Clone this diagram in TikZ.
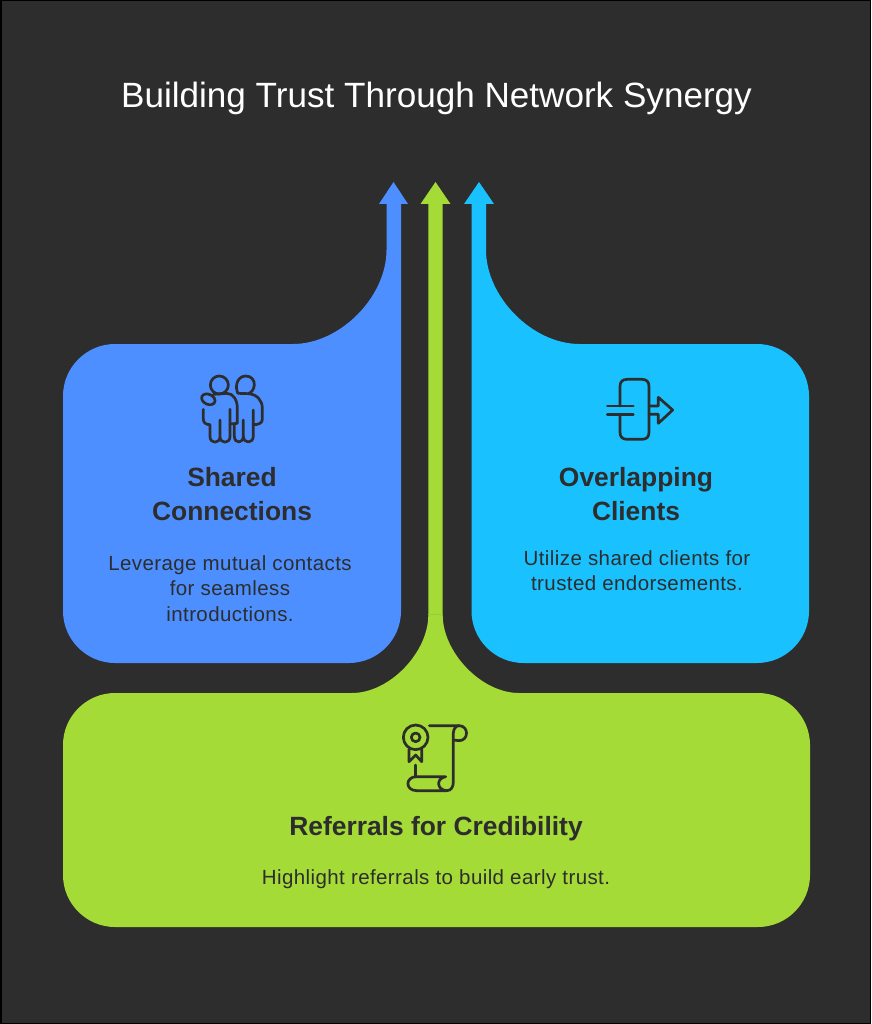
\documentclass[tikz,border=0pt]{standalone}
\usepackage{fontspec}
\setmainfont{Liberation Sans}
\definecolor{bg}{HTML}{2D2D2D}
\definecolor{edge}{HTML}{000000}
\definecolor{bluec}{HTML}{4D8FFF}
\definecolor{cyanc}{HTML}{19C1FF}
\definecolor{greenc}{HTML}{A5DB36}
\definecolor{seamc}{HTML}{98CB36}
\definecolor{ink}{HTML}{2D2D2D}
\tikzset{
  titletext/.style={text=white,font=\fontsize{35.1}{40}\selectfont,inner sep=0pt},
  headtext/.style={text=ink,font=\bfseries\fontsize{26.4}{33.5}\selectfont,align=center,inner sep=0pt},
  bodytext/.style={text=ink,font=\addfontfeatures{LetterSpace=2}\fontsize{20.5}{25.2}\selectfont,align=center,inner sep=0pt},
  iconline/.style={draw=ink,line width=2.7pt,line cap=round,line join=round,fill=none},
}
\begin{document}
\begin{tikzpicture}[x=1pt,y=-1pt]
\useasboundingbox (0,0) rectangle (871,1024);
\fill[edge] (0,0) rectangle (871,1024);
\fill[bg] (1.5,1.5) rectangle (869.5,1022.5);
% blue
\fill[bluec] (63,396) .. controls (63,367.4) and (86.4,344) .. (115,344) -- (293,344)
 .. controls (340,344) and (386.5,297) .. (386.5,250) -- (386.5,204) -- (379,204) -- (393.5,182) -- (408,204) -- (401,204)
 -- (401,611) .. controls (401,639.6) and (377.6,663) .. (349,663) -- (115,663) .. controls (86.4,663) and (63,639.6) .. (63,611) -- cycle;
% cyan
\fill[cyanc] (809,396) .. controls (809,367.4) and (785.6,344) .. (757,344) -- (579.5,344)
 .. controls (532.5,344) and (486,297) .. (486,250) -- (486,204) -- (494,204) -- (479,182) -- (464,204) -- (471.5,204)
 -- (471.5,611) .. controls (471.5,639.6) and (495,663) .. (523.5,663) -- (757,663) .. controls (785.6,663) and (809,639.6) .. (809,611) -- cycle;
% green
\fill[greenc] (63,745) .. controls (63,716.4) and (86.4,693) .. (115,693) -- (352,693)
 .. controls (390,693) and (428.3,652) .. (428.3,615) -- (428.3,204) -- (420.5,204) -- (435.5,182) -- (450.5,204) -- (442.7,204)
 -- (442.7,615) .. controls (442.7,652) and (481,693) .. (519,693) -- (758,693)
 .. controls (786.6,693) and (810,716.4) .. (810,745) -- (810,875) .. controls (810,903.6) and (786.6,927) .. (758,927)
 -- (115,927) .. controls (86.4,927) and (63,903.6) .. (63,875) -- cycle;
\draw[seamc,line width=0.6pt] (428.3,614) -- (442.7,614);
% texts
\node[titletext] (title) at (436.5,98) {Building Trust Through Network Synergy};
\node[headtext] (h1) at (232,494) {Shared\\Connections};
\node[bodytext] (b1) at (230,588.5) {Leverage mutual contacts\\for seamless\\introductions.};
\node[headtext] (h2) at (636,494) {Overlapping\\Clients};
\node[bodytext] (b2) at (637,571) {Utilize shared clients for\\trusted endorsements.};
\node[headtext] (h3) at (436,829) {Referrals for Credibility};
\node[bodytext] (b3) at (436,879) {Highlight referrals to build early trust.};
% icon 1
\begin{scope}[shift={(180,360)},x=0.3333pt,y=-0.3333pt]
\draw[iconline] (118,75) circle [radius=27];
\draw[iconline] (174,100) .. controls (165,85) and (168,50) .. (196,48) .. controls (215,47) and (224,62) .. (223,75) .. controls (222,88) and (215,97) .. (205,101);
\draw[iconline,rotate around={-25:(85,118)}] (85,118) ellipse [x radius=21,y radius=15];
\draw[iconline] (100,103) -- (140,100) .. controls (160,100) and (172,120) .. (172,145) -- (172,190) -- (150,192);
\draw[iconline] (70,148) -- (70,178) .. controls (70,190) and (80,194) .. (90,194) -- (90,230) .. controls (90,252) and (120,252) .. (120,230) -- (120,180) -- (120,230) .. controls (120,252) and (150,252) .. (150,230) -- (150,148);
\draw[iconline] (174,100) -- (205,101) .. controls (230,103) and (247,120) .. (247,145) -- (247,178) .. controls (247,190) and (235,194) .. (220,194);
\draw[iconline] (220,150) -- (220,228) .. controls (220,252) and (190,252) .. (190,228) -- (190,180) -- (190,228) .. controls (190,252) and (163,252) .. (163,228) -- (163,192);
\end{scope}
% icon 2
\begin{scope}[shift={(590,365)},x=0.3333pt,y=-0.3333pt]
\draw[iconline] (90,123) -- (90,65) .. controls (90,50) and (97,43) .. (112,43) -- (155,43) .. controls (170,43) and (177,50) .. (177,65) -- (177,201) .. controls (177,216) and (170,223) .. (155,223) -- (112,223) .. controls (97,223) and (90,216) .. (90,201) -- (90,148);
\draw[iconline] (52,123) -- (130,123);
\draw[iconline] (52,148) -- (130,148);
\draw[iconline] (177,123) -- (205,123) -- (205,97) -- (248,135) -- (205,175) -- (205,148) -- (177,148);
\end{scope}
% icon 3
\begin{scope}[shift={(385,710)},x=0.3333pt,y=-0.3333pt]
\draw[iconline] (92,82) circle [radius=37];
\draw[iconline] (92,82) circle [radius=13];
\draw[iconline] (72,118) -- (72,155) -- (92,135) -- (110,155) -- (110,118);
\draw[iconline] (92,165) -- (92,197);
\draw[iconline] (133,47) -- (222,47) .. controls (252,47) and (252,92) .. (222,92) -- (205,90);
\draw[iconline] (222,47) .. controls (212,47) and (205,58) .. (205,70) -- (205,215) .. controls (205,232) and (198,242) .. (185,242) -- (95,242) .. controls (60,242) and (60,200) .. (95,200) -- (182,200) .. controls (152,205) and (155,240) .. (185,242);
\end{scope}
\end{tikzpicture}
\end{document}
